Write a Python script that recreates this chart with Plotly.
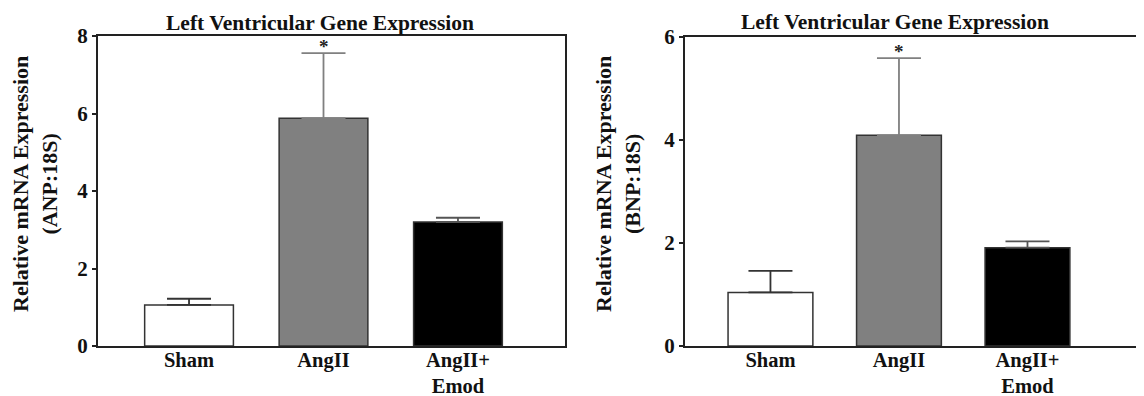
import plotly.graph_objects as go

categories = ["Sham", "AngII", "AngII+<br>Emod"]
anp_values = [1.06, 5.88, 3.20]
anp_errors = [0.16, 1.68, 0.11]
bnp_values = [1.04, 4.09, 1.91]
bnp_errors = [0.42, 1.50, 0.12]
bar_colors = ["#ffffff", "#808080", "#000000"]
err_colors = ["#333333", "#808080", "#555555"]
title_text = "Left Ventricular Gene Expression"
anp_ylabel = "Relative mRNA Expression<br>(ANP:18S)"
bnp_ylabel = "Relative mRNA Expression<br>(BNP:18S)"
anp_ticks = [0, 2, 4, 6, 8]
bnp_ticks = [0, 2, 4, 6]

W, H = 1144, 396
OFF = 8  # page body margin
FONT = "Liberation Serif, Times New Roman, serif"

def px_x(p):
    return (p - OFF) / W

def px_y(p):
    return (H - (p - OFF)) / H

fig = go.Figure()

for i, cat in enumerate(categories):
    fig.add_trace(go.Bar(
        x=[cat], y=[anp_values[i]], width=0.66,
        marker=dict(color=bar_colors[i], line=dict(color="#333333", width=1.5)),
        error_y=dict(type="data", symmetric=False, array=[anp_errors[i]], arrayminus=[0],
                     color=err_colors[i], thickness=1.8, width=22),
        xaxis="x", yaxis="y", showlegend=False, hoverinfo="skip"))
    fig.add_trace(go.Bar(
        x=[cat], y=[bnp_values[i]], width=0.66,
        marker=dict(color=bar_colors[i], line=dict(color="#333333", width=1.5)),
        error_y=dict(type="data", symmetric=False, array=[bnp_errors[i]], arrayminus=[0],
                     color=err_colors[i], thickness=1.8, width=22),
        xaxis="x2", yaxis="y2", showlegend=False, hoverinfo="skip"))

axis_common = dict(showline=True, linecolor="#222222", linewidth=2, showgrid=False,
                   zeroline=False, automargin=False)
tickfont = dict(family=FONT, size=21, color="#111111", weight="bold")
xtickfont = dict(family=FONT, size=20.5, color="#111111", weight="bold")

fig.update_layout(
    width=W, height=H,
    margin=dict(l=0, r=0, t=0, b=0, autoexpand=False),
    paper_bgcolor="white", plot_bgcolor="white",
    barmode="overlay",
    xaxis=dict(domain=[px_x(98), px_x(565)], type="category", range=[-0.677, 2.796],
               mirror=True, ticks="", tickfont=xtickfont, ticklabelstandoff=-6,
               anchor="y", **axis_common),
    yaxis=dict(domain=[px_y(346), px_y(36)], range=[0, 8], tickvals=anp_ticks,
               ticks="outside", ticklen=4, tickwidth=2, tickcolor="#222222",
               mirror=True, tickfont=tickfont, anchor="x", **axis_common),
    xaxis2=dict(domain=[px_x(685), 1.0], type="category", range=[-0.665, 2.969],
                mirror=True, ticks="", tickfont=xtickfont, ticklabelstandoff=-6,
                anchor="y2", **axis_common),
    yaxis2=dict(domain=[px_y(346), px_y(37)], range=[0, 6], tickvals=bnp_ticks,
                ticks="outside", ticklen=4, tickwidth=2, tickcolor="#222222",
                mirror=True, tickfont=tickfont, anchor="x2", **axis_common),
)

title_font = dict(family=FONT, size=21.5, color="#111111", weight="bold")
ylab_font = dict(family=FONT, size=22, color="#111111", weight="bold")
star_font = dict(family=FONT, size=19, color="#222222", weight="bold")

annots = [
    dict(x=px_x(320), y=px_y(23), xref="paper", yref="paper", text=title_text,
         showarrow=False, font=title_font, xanchor="center", yanchor="middle"),
    dict(x=px_x(895), y=px_y(22), xref="paper", yref="paper", text=title_text,
         showarrow=False, font=title_font, xanchor="center", yanchor="middle"),
    dict(x=px_x(35), y=px_y(184), xref="paper", yref="paper", text=anp_ylabel,
         showarrow=False, textangle=-90, font=ylab_font, xanchor="center", yanchor="middle"),
    dict(x=px_x(618), y=px_y(184), xref="paper", yref="paper", text=bnp_ylabel,
         showarrow=False, textangle=-90, font=ylab_font, xanchor="center", yanchor="middle"),
    dict(x="AngII", y=anp_values[1] + anp_errors[1], xref="x", yref="y", text="*",
         showarrow=False, font=star_font, xanchor="center", yanchor="bottom", yshift=-6),
    dict(x="AngII", y=bnp_values[1] + bnp_errors[1], xref="x2", yref="y2", text="*",
         showarrow=False, font=star_font, xanchor="center", yanchor="bottom", yshift=-6),
]
fig.update_layout(annotations=annots)

fig.write_html("out.html")
